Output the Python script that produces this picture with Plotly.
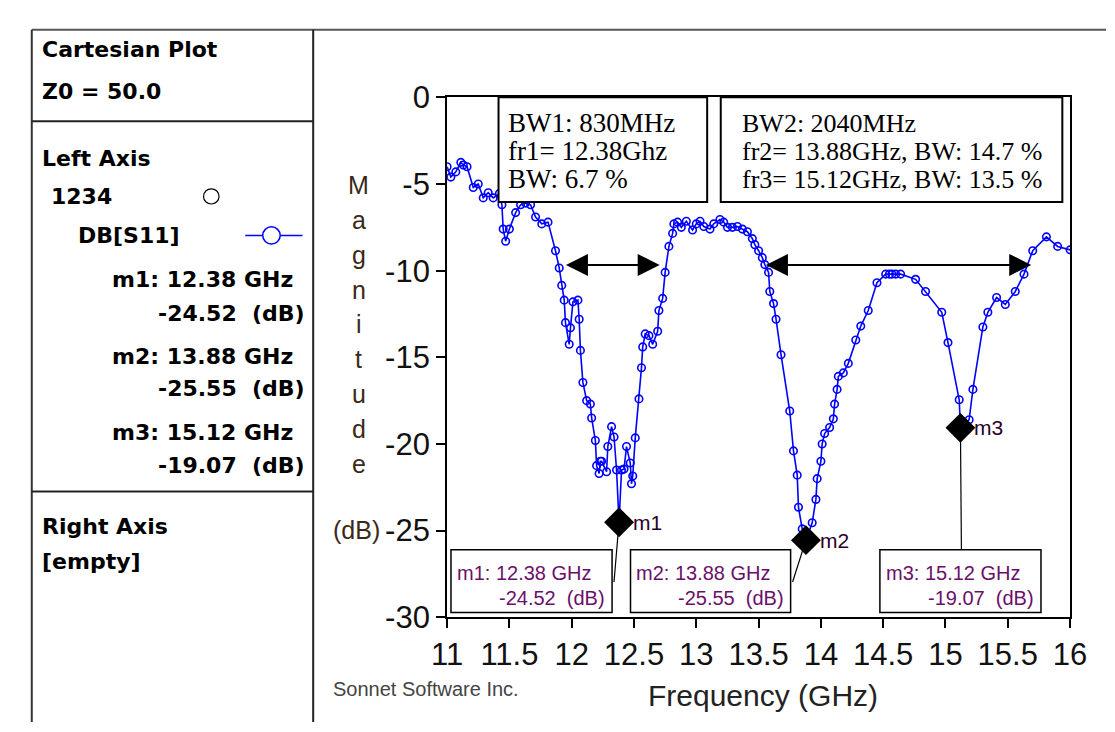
import plotly.graph_objects as go

W, H = 1115, 732

# ---------------- data ----------------
freq_ghz = [
    11.00, 11.03, 11.07, 11.11, 11.13, 11.16, 11.21, 11.25, 11.29, 11.33,
    11.37, 11.42, 11.44, 11.45, 11.47, 11.50, 11.55, 11.59, 11.63, 11.67,
    11.71, 11.76, 11.81, 11.87, 11.90, 11.92, 11.94, 11.95, 11.98, 11.99,
    12.01, 12.05, 12.06, 12.07, 12.09, 12.12, 12.15, 12.16, 12.19, 12.20,
    12.22, 12.23, 12.24, 12.28, 12.29, 12.32, 12.34, 12.36, 12.38, 12.40,
    12.42, 12.44, 12.47, 12.48, 12.49, 12.51, 12.54, 12.56, 12.57, 12.59,
    12.62, 12.65, 12.69, 12.70, 12.73, 12.75, 12.78, 12.81, 12.82, 12.85,
    12.88, 12.92, 12.97, 13.00, 13.03, 13.06, 13.11, 13.14, 13.19, 13.22,
    13.25, 13.29, 13.33, 13.37, 13.41, 13.45, 13.47, 13.50, 13.53, 13.55,
    13.58, 13.59, 13.62, 13.64, 13.68, 13.75, 13.78, 13.81, 13.82, 13.85,
    13.88, 13.93, 13.96, 13.97, 14.00, 14.01, 14.03, 14.07, 14.10, 14.11,
    14.13, 14.14, 14.18, 14.22, 14.28, 14.32, 14.38, 14.45, 14.52, 14.55,
    14.57, 14.60, 14.64, 14.76, 14.84, 14.97, 15.02, 15.11, 15.12, 15.19,
    15.22, 15.30, 15.34, 15.41, 15.48, 15.56, 15.63, 15.70, 15.81, 15.90,
    16.00,
]
s11_db = [
    -4.0, -4.6, -4.3, -3.75, -3.9, -4.0, -5.2, -5.0, -5.8, -5.5,
    -5.8, -5.55, -6.2, -7.6, -8.3, -7.6, -6.65, -6.2, -6.1, -6.2,
    -6.9, -7.3, -7.2, -8.85, -9.85, -10.85, -11.7, -13.0, -14.25, -13.3,
    -11.8, -11.7, -12.8, -14.6, -16.45, -17.5, -17.7, -18.5, -19.8, -21.25,
    -21.7, -21.0, -21.0, -21.6, -20.15, -19.0, -19.6, -21.5, -24.52, -21.5,
    -21.45, -20.15, -21.1, -22.3, -21.85, -19.65, -17.4, -15.6, -14.4, -13.65,
    -13.75, -14.25, -13.5, -12.3, -11.6, -10.1, -8.6, -7.85, -7.3, -7.2,
    -7.5, -7.15, -7.65, -7.3, -7.15, -7.45, -7.6, -7.3, -7.05, -7.2,
    -7.5, -7.5, -7.45, -7.6, -7.75, -8.15, -8.5, -8.85, -9.25, -9.65,
    -10.1, -11.2, -11.9, -12.8, -14.85, -18.1, -20.4, -21.8, -23.65, -24.9,
    -25.55, -24.55, -23.2, -22.0, -21.0, -20.0, -19.4, -19.05, -18.55, -17.7,
    -16.85, -16.1, -15.9, -15.35, -14.0, -13.2, -12.3, -10.7, -10.2, -10.2,
    -10.2, -10.2, -10.2, -10.5, -11.2, -12.4, -14.15, -17.45, -19.07, -18.6,
    -16.85, -13.25, -12.4, -11.55, -11.95, -11.2, -10.2, -8.85, -8.05, -8.6,
    -8.8,
]

marker_names = ["m1", "m2", "m3"]
marker_freq = [12.38, 13.88, 15.12]
marker_db = [-24.52, -25.55, -19.07]

bw_arrows = [(11.942, 12.706, -9.67), (13.547, 15.688, -9.67)]
box1_lines = ["BW1: 830MHz", "fr1= 12.38Ghz", "BW: 6.7 %"]
box2_lines = ["BW2: 2040MHz", "fr2= 13.88GHz, BW: 14.7 %", "fr3= 15.12GHz, BW: 13.5 %"]

x_ticks = [11, 11.5, 12, 12.5, 13, 13.5, 14, 14.5, 15, 15.5, 16]
y_ticks = [0, -5, -10, -15, -20, -25, -30]
y_ticktext = ["0", "-5", "-10", "-15", "-20", "-25", "-30"]


def px(x):
    return x / W


def py(y):
    return 1 - y / H


BLUE = "#0000ff"
PURPLE = "#6a106a"
LABEL = "#3a2a1a"

fig = go.Figure()

fig.add_trace(go.Scatter(
    x=freq_ghz, y=s11_db, mode="lines+markers",
    line=dict(color=BLUE, width=1.6),
    marker=dict(symbol="circle-open", size=7.5, color=BLUE, line=dict(width=1.6, color=BLUE)),
    showlegend=False, hoverinfo="x+y",
))

fig.add_trace(go.Scatter(
    x=marker_freq, y=marker_db, mode="markers",
    marker=dict(symbol="diamond", size=23, color="black"),
    showlegend=False,
))

shapes = []
annotations = []

# outer frame pieces
shapes.append(dict(type="line", xref="paper", yref="paper", x0=px(8), x1=1, y0=py(5), y1=py(5),
                   line=dict(color="#555", width=2)))
shapes.append(dict(type="line", xref="paper", yref="paper", x0=px(8), x1=px(8), y0=py(5), y1=0,
                   line=dict(color="#333", width=2)))
shapes.append(dict(type="line", xref="paper", yref="paper", x0=px(298), x1=px(298), y0=py(5), y1=0,
                   line=dict(color="#222", width=2)))
for yy in (101, 490):
    shapes.append(dict(type="line", xref="paper", yref="paper", x0=px(8), x1=px(298), y0=py(yy), y1=py(yy),
                       line=dict(color="#222", width=2)))

# left panel texts
LF = dict(family="DejaVu Sans", size=22, color="black")


def ltext(t, x, y, anchor="left"):
    annotations.append(dict(text="<b>%s</b>" % t, x=px(x), y=py(y), xref="paper", yref="paper",
                            xanchor=anchor, yanchor="middle", showarrow=False, font=LF))


ltext("Cartesian Plot", 16, 26)
ltext("Z0 = 50.0", 16, 70)
ltext("Left Axis", 16, 140)
ltext("1234", 26, 180)
ltext("DB[S11]", 54, 221)
rows = [(267, 303), (348, 382), (428, 463)]
for name, f, d, (ya, yb) in zip(marker_names, marker_freq, marker_db, rows):
    ltext("%s: %.2f GHz" % (name, f), 279, ya, "right")
    ltext("%.2f  (dB)" % d, 292, yb, "right")
ltext("Right Axis", 16, 527)
ltext("[empty]", 16, 563)

# legend symbols
shapes.append(dict(type="circle", xref="paper", yref="paper", x0=px(185), x1=px(201), y0=py(188), y1=py(172),
                   line=dict(color="black", width=1.2)))
shapes.append(dict(type="line", xref="paper", yref="paper", x0=px(228), x1=px(287), y0=py(221), y1=py(221),
                   line=dict(color=BLUE, width=1.5)))
shapes.append(dict(type="circle", xref="paper", yref="paper", x0=px(246), x1=px(264), y0=py(230), y1=py(212),
                   line=dict(color=BLUE, width=1.5), fillcolor="white"))

# text boxes on top
for (x0, x1), lines, tx, fs in (((489, 704), box1_lines, 497, 27), ((718, 1070), box2_lines, 738, 26)):
    shapes.append(dict(type="rect", xref="paper", yref="paper", x0=px(x0), x1=px(x1), y0=py(186), y1=py(76),
                       line=dict(color="black", width=2), fillcolor="white", layer="above"))
    for i, t in enumerate(lines):
        annotations.append(dict(text=t, x=px(tx), y=py(103 + 29.5 * i), xref="paper", yref="paper",
                                xanchor="left", yanchor="middle", showarrow=False,
                                font=dict(family="Liberation Serif", size=fs, color="black")))

# bandwidth arrows
for a, b, yv in bw_arrows:
    annotations.append(dict(x=b, y=yv, ax=a, ay=yv, xref="x", yref="y", axref="x", ayref="y",
                            text="", showarrow=True, arrowhead=2, startarrowhead=2, arrowside="end+start",
                            arrowsize=2.2, startarrowsize=2.2, arrowwidth=2, arrowcolor="black"))

# marker boxes
mbox = [(440, 606), (625, 790), (882, 1048)]
for name, f, d, (x0, x1) in zip(marker_names, marker_freq, marker_db, mbox):
    shapes.append(dict(type="rect", xref="paper", yref="paper", x0=px(x0), x1=px(x1), y0=py(617), y1=py(551),
                       line=dict(color="black", width=1.5), fillcolor="white", layer="above"))
    annotations.append(dict(text="%s: %.2f GHz" % (name, f), x=px(x0 + 4), y=py(575), xref="paper", yref="paper",
                            xanchor="left", yanchor="middle", showarrow=False,
                            font=dict(family="Liberation Sans", size=20, color=PURPLE)))
    annotations.append(dict(text="%.2f  (dB)" % d, x=px(x1 - 5), y=py(602), xref="paper", yref="paper",
                            xanchor="right", yanchor="middle", showarrow=False,
                            font=dict(family="Liberation Sans", size=20, color=PURPLE)))
    annotations.append(dict(text=name, x=f, y=d, xref="x", yref="y", xshift=12, xanchor="left",
                            yanchor="middle", showarrow=False,
                            font=dict(family="Liberation Sans", size=21, color="#2a002a")))

# leader lines (data point to box)
leaders = [(marker_freq[0], marker_db[0], 608, 585), (marker_freq[1], marker_db[1], 792, 585),
           (marker_freq[2], marker_db[2], 966, 551)]
for f, d, bx, by in leaders:
    shapes.append(dict(type="line", xref="x", yref="y", x0=f, y0=d,
                       x1=11 + (bx - 436) / (1078 - 436) * 5, y1=-(by - 76) / (622 - 76) * 30,
                       line=dict(color="black", width=1.2)))

# axis titles and labels
annotations.append(dict(text="Frequency (GHz)", x=px(762), y=py(704), xref="paper", yref="paper",
                        xanchor="center", yanchor="middle", showarrow=False,
                        font=dict(family="Liberation Sans", size=30, color="#222")))
for i, ch in enumerate("Magnitude"):
    annotations.append(dict(text=ch, x=px(345), y=py(168 + 36.6 * i), xref="paper", yref="paper",
                            xanchor="center", yanchor="middle", showarrow=False,
                            font=dict(family="Liberation Sans", size=25, color=LABEL)))
annotations.append(dict(text="(dB)", x=px(343), y=py(530), xref="paper", yref="paper",
                        xanchor="center", yanchor="middle", showarrow=False,
                        font=dict(family="Liberation Sans", size=25, color=LABEL)))
annotations.append(dict(text="Sonnet Software Inc.", x=px(316), y=py(697), xref="paper", yref="paper",
                        xanchor="left", yanchor="middle", showarrow=False,
                        font=dict(family="Liberation Sans", size=20, color="#444")))

fig.update_layout(
    width=W, height=H, margin=dict(l=0, r=0, t=0, b=0),
    paper_bgcolor="white", plot_bgcolor="white",
    shapes=shapes, annotations=annotations, showlegend=False,
    xaxis=dict(domain=[px(436), px(1078)], range=[11, 16], tickvals=x_ticks,
               ticktext=[("%g" % v) for v in x_ticks], ticks="outside", ticklen=9, tickwidth=2,
               tickcolor="black", showline=True, linecolor="black", linewidth=2, mirror=True,
               showgrid=False, zeroline=False,
               tickfont=dict(family="Liberation Sans", size=31, color="#111")),
    yaxis=dict(domain=[py(622), py(76)], range=[-30, 0], tickvals=y_ticks, ticktext=y_ticktext,
               ticks="outside", ticklen=9, tickwidth=2, tickcolor="black",
               showline=True, linecolor="black", linewidth=2, mirror=True,
               showgrid=False, zeroline=False,
               tickfont=dict(family="Liberation Sans", size=31, color="#111")),
)

fig.write_html("out.html")
